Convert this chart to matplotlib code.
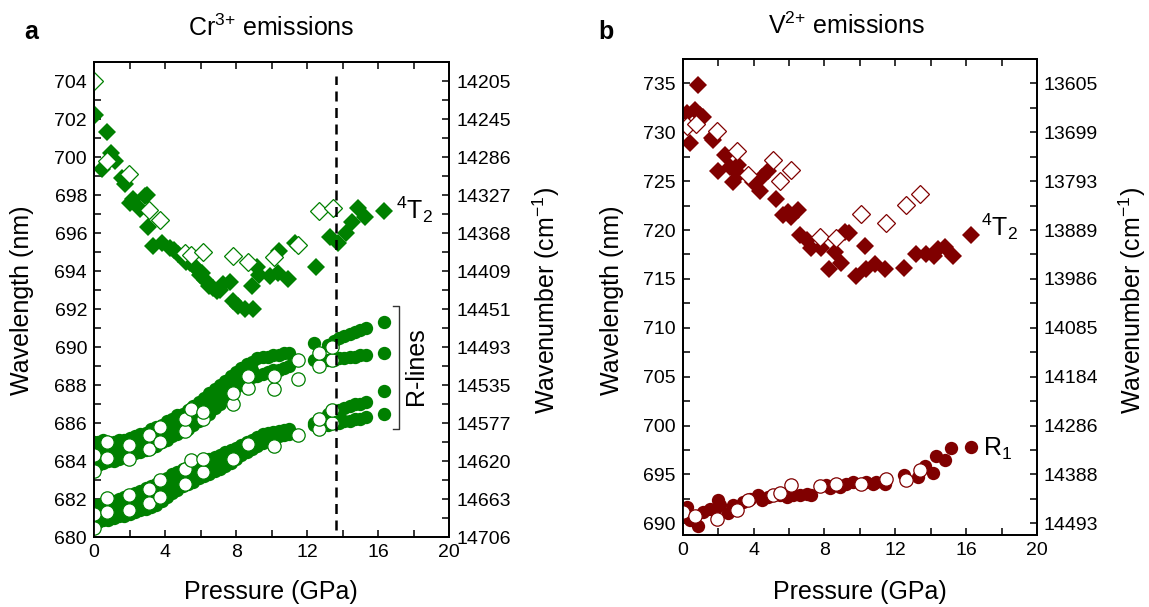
import matplotlib
matplotlib.use("Agg")
import matplotlib.pyplot as plt

plt.rcParams['font.family'] = ['Liberation Sans', 'DejaVu Sans']
plt.rcParams['mathtext.fontset'] = 'custom'
plt.rcParams['mathtext.rm'] = 'Liberation Sans'
plt.rcParams['mathtext.it'] = 'Liberation Sans:italic'
plt.rcParams['mathtext.bf'] = 'Liberation Sans:bold'

GREEN = '#008000'
RED = '#800000'

# ---------------- Panel a : Cr3+ ----------------
cr_t2_p = [0.06, 0.43, 0.71, 0.94, 1.18, 1.56, 1.74, 2.03, 2.2, 2.59, 2.87, 3.0, 3.06, 3.3, 3.8,
           4.28, 4.5, 4.75, 5.2, 5.4, 5.6, 5.8, 5.97, 6.1, 6.25, 6.5, 6.7, 6.9, 7.1, 7.28, 7.65,
           7.84, 8.12, 8.5, 8.97, 8.87, 9.15, 9.3, 9.9, 10.37, 10.4, 10.9, 11.3, 12.5, 13.28,
           13.75, 14.2, 14.5, 14.87, 15.25, 16.32]
cr_t2_wl = [702.2, 699.35, 701.3, 700.2, 699.8, 698.9, 698.6, 697.6, 697.8, 697.25, 697.94, 698.0,
            696.3, 695.3, 695.5, 695.2, 695.1, 694.9, 694.5, 694.4, 694.3, 694.1, 693.8, 693.9,
            693.55, 693.2, 693.1, 692.96, 693.0, 693.3, 693.4, 692.43, 692.17, 692.0, 692.0,
            693.2, 694.2, 693.8, 693.75, 693.9, 695.06, 693.6, 695.5, 694.2, 695.8, 695.5, 696.0,
            696.6, 697.3, 696.85, 697.15]

cr_t2_open_p = [0.0, 0.71, 1.99, 3.11, 3.71, 5.12, 5.45, 6.15, 7.8, 8.68, 10.15, 11.46, 12.68, 13.47]
cr_t2_open_wl = [704.0, 699.8, 699.1, 697.2, 696.7, 694.97, 694.85, 695.0, 694.8, 694.5, 694.74,
                 695.36, 697.16, 697.33]

# R-lines, filled (continuous runs, 0-11 GPa)
cr_r_p = [0.0, 0.25, 0.5, 0.8, 1.1, 1.4, 1.7, 2.0, 2.3, 2.6, 2.9, 3.2, 3.5, 3.8, 4.1, 4.4, 4.7,
          5.0, 5.3, 5.6, 5.9, 6.2, 6.5, 6.8, 7.1, 7.4, 7.7, 8.0, 8.3, 8.6, 8.9, 9.2, 9.5, 9.8,
          10.1, 10.4, 10.7, 11.0]
cr_r_upper_hi = [685.0, 685.0, 685.1, 685.0, 685.0, 685.1, 685.1, 685.2, 685.3, 685.4, 685.5,
                 685.7, 685.8, 685.9, 686.1, 686.2, 686.4, 686.5, 686.7, 686.9, 687.1, 687.3,
                 687.6, 687.8, 688.0, 688.2, 688.5, 688.7, 688.9, 689.1, 689.2, 689.4, 689.5,
                 689.5, 689.6, 689.6, 689.7, 689.7]
cr_r_upper_lo = [683.7, 683.8, 683.9, 684.0, 684.0, 684.1, 684.2, 684.3, 684.4, 684.5, 684.6,
                 684.7, 684.8, 685.0, 685.1, 685.3, 685.4, 685.6, 685.7, 685.9, 686.1, 686.3,
                 686.5, 686.8, 687.0, 687.3, 687.6, 687.9, 688.1, 688.3, 688.4, 688.5, 688.6,
                 688.7, 688.8, 688.8, 688.9, 689.0]
cr_r_lower_hi = [681.7, 681.7, 681.8, 681.8, 681.9, 682.0, 682.1, 682.2, 682.3, 682.4, 682.6,
                 682.7, 682.8, 683.0, 683.1, 683.3, 683.4, 683.6, 683.7, 683.8, 683.9, 684.0,
                 684.1, 684.2, 684.3, 684.45, 684.6, 684.7, 684.85, 685.0, 685.1, 685.25, 685.4,
                 685.5, 685.55, 685.6, 685.65, 685.7]
cr_r_lower_lo = [680.7, 680.8, 680.9, 680.9, 681.0, 681.1, 681.1, 681.2, 681.3, 681.4, 681.5,
                 681.6, 681.7, 681.9, 682.1, 682.3, 682.5, 682.7, 682.8, 682.9, 683.1, 683.2,
                 683.3, 683.45, 683.6, 683.75, 683.9, 684.1, 684.3, 684.5, 684.65, 684.8, 684.95,
                 685.1, 685.2, 685.3, 685.35, 685.4]

cr_rmid_p = [0.0, 0.25, 0.5, 0.8, 1.1, 1.4, 1.7, 2.0, 2.3, 2.6, 2.9, 3.2, 3.5, 3.8, 4.1, 4.4, 4.7,
             5.0, 5.3, 5.6, 5.9, 6.2, 6.5, 6.8, 7.1, 7.4, 7.7, 8.0, 8.3, 8.6, 8.9]
cr_r_upper_mid = [684.3, 684.4, 684.5, 684.5, 684.5, 684.6, 684.7, 684.8, 684.85, 685.0, 685.05,
                  685.2, 685.3, 685.45, 685.6, 685.75, 685.9, 686.05, 686.2, 686.4, 686.6, 686.8,
                  687.05, 687.3, 687.5, 687.75, 688.05, 688.3, 688.5, 688.7, 688.8]
cr_r_lower_mid = [681.2, 681.25, 681.35, 681.35, 681.45, 681.55, 681.6, 681.7, 681.8, 681.9,
                  682.05, 682.15, 682.25, 682.45, 682.6, 682.8, 682.95, 683.15, 683.25, 683.35,
                  683.5, 683.6, 683.7, 683.8, 683.95, 684.1, 684.25, 684.4, 684.55, 684.75, 684.9]

# R-lines, filled (high pressure)
cr_rhp_p = [12.4, 13.2, 13.5, 13.8, 14.1, 14.4, 14.7, 15.0, 15.3, 16.3]
cr_rhp_upper_hi = [690.2, 690.1, 690.3, 690.5, 690.6, 690.7, 690.8, 690.9, 691.0, 691.3]
cr_rhp_upper_lo = [689.3, 689.3, 689.3, 689.4, 689.4, 689.5, 689.5, 689.6, 689.6, 689.7]
cr_rhp_lower_hi = [686.0, 686.5, 686.6, 686.7, 686.8, 686.9, 687.0, 687.0, 687.1, 687.7]
cr_rhp_lower_lo = [685.9, 685.9, 686.0, 686.0, 686.1, 686.1, 686.2, 686.2, 686.3, 686.5]

# R-lines, open
cr_r_open_p = [0.0, 0.0, 0.0, 0.0, 0.71, 0.71, 0.71, 0.71, 1.99, 1.99, 1.99, 1.99,
               3.11, 3.11, 3.11, 3.11, 3.71, 3.71, 3.71, 3.71, 5.12, 5.12, 5.12, 5.12,
               5.45, 5.45, 6.15, 6.15, 6.15, 6.15, 7.8, 7.8, 7.8, 8.68, 8.68, 8.68,
               10.15, 10.15, 10.15, 11.46, 11.46, 11.46, 12.68, 12.68, 12.68, 12.68,
               13.37, 13.37, 13.37, 13.37]
cr_r_open_wl = [680.5, 681.2, 683.5, 684.3, 681.33, 682.03, 684.18, 685.0, 681.42, 682.2, 684.1, 684.83,
                681.77, 682.55, 684.65, 685.35, 682.1, 683.0, 685.0, 685.8, 682.8, 683.6, 685.6, 686.23,
                684.04, 686.75, 683.43, 684.1, 686.23, 686.6, 684.1, 687.0, 687.6, 684.9, 687.85, 688.5,
                684.8, 687.8, 688.45, 685.35, 688.3, 689.3, 685.7, 686.2, 689.0, 689.7,
                686.0, 686.7, 689.3, 690.0]

cr_transition_p = 13.65

cr_yticks = [680, 682, 684, 686, 688, 690, 692, 694, 696, 698, 700, 702, 704]
cr_wn_labels = ['14706', '14663', '14620', '14577', '14535', '14493', '14451', '14409',
                '14368', '14327', '14286', '14245', '14205']

# ---------------- Panel b : V2+ ----------------
v_t2_p = [0.88, 0.22, 0.69, 0.41, 1.16, 1.0, 1.63, 1.72, 2.38, 2.0, 2.66, 2.85, 3.13, 3.2, 3.98,
          4.35, 4.45, 4.82, 5.26, 5.67, 5.95, 6.1, 6.5, 6.6, 6.99, 7.27, 7.83, 8.26, 8.58, 8.96,
          9.14, 9.4, 9.8, 10.27, 10.37, 10.83, 11.4, 12.52, 13.18, 13.75, 14.2, 14.4, 14.83,
          15.25, 16.28]
v_t2_wl = [734.8, 732.0, 732.3, 728.9, 731.6, 731.8, 729.4, 729.2, 727.7, 726.06, 726.4, 724.9,
           726.7, 725.7, 724.9, 724.0, 725.4, 726.06, 723.2, 721.5, 721.8, 721.3, 722.0, 719.5,
           719.0, 718.15, 718.15, 716.0, 717.8, 716.6, 719.8, 719.7, 715.3, 718.4, 716.0, 716.5,
           716.0, 716.1, 717.5, 717.6, 717.3, 718.1, 718.3, 717.3, 719.5]
v_t2_open_p = [0.22, 0.75, 1.95, 3.08, 3.7, 5.1, 5.48, 6.14, 7.74, 8.64, 10.08, 11.5, 12.62, 13.4]
v_t2_open_wl = [730.6, 730.8, 730.1, 728.1, 725.6, 727.2, 725.05, 726.1, 719.3, 719.15, 721.6,
                720.7, 722.6, 723.7]

v_r1_p = [0.22, 0.41, 0.88, 1.16, 1.54, 1.8, 2.0, 2.1, 2.57, 2.85, 3.4, 3.8, 4.26, 4.5, 4.8,
          5.48, 5.9, 6.23, 6.6, 6.99, 7.27, 8.11, 8.3, 8.86, 9.24, 9.6, 10.37, 10.75, 10.9, 11.4,
          12.47, 13.27, 13.65, 14.12, 14.31, 14.78, 15.15, 16.28]
v_r1_wl = [691.7, 690.3, 689.7, 691.2, 691.5, 691.4, 692.4, 691.9, 691.0, 691.9, 692.2, 692.5,
           692.9, 692.4, 692.7, 692.9, 692.7, 692.9, 692.9, 693.0, 692.9, 693.9, 693.6, 693.7,
           694.0, 694.2, 694.2, 694.0, 694.2, 694.0, 694.9, 694.7, 695.9, 695.1, 696.9, 696.5,
           697.75, 697.8]
v_r1_open_p = [0.04, 0.69, 1.92, 3.04, 3.7, 5.1, 5.48, 6.14, 7.74, 8.64, 10.08, 11.5, 12.62, 13.37]
v_r1_open_wl = [691.2, 690.7, 690.4, 691.4, 692.4, 692.9, 693.1, 693.9, 693.8, 694.0, 694.0,
                694.5, 694.4, 695.4]

v_yticks = [690, 695, 700, 705, 710, 715, 720, 725, 730, 735]
v_wn_labels = ['14493', '14388', '14286', '14184', '14085', '13986', '13889', '13793', '13699', '13605']

x_ticks = [0, 4, 8, 12, 16, 20]

# ---------------- drawing ----------------
fig = plt.figure(figsize=(11.49, 6.07), dpi=100)
W, H = 1149.0, 607.0
ax1 = fig.add_axes([94 / W, (H - 537) / H, 355.3 / W, 475 / H])
ax2 = fig.add_axes([682.7 / W, (H - 535) / H, 354.3 / W, 476 / H])

TICK_FS = 14
LAB_FS = 18
DMS = 9.0   # diamond size
CMS = 9.6   # circle size


def style_axes(ax, ylim, yticks, ymin_step, labels):
    ax.set_xlim(0, 20)
    ax.set_ylim(*ylim)
    ax.set_xticks(x_ticks)
    ax.set_xticks([2, 6, 10, 14, 18], minor=True)
    ax.set_yticks(yticks)
    ax.set_yticks([t + ymin_step for t in yticks[:-1]] + [yticks[-1] + ymin_step], minor=True)
    ax.tick_params(which='both', direction='in', top=True, right=False, width=1.1,
                   labelsize=TICK_FS, pad=5, length=5)
    for s in ax.spines.values():
        s.set_linewidth(1.3)
    axr = ax.twinx()
    axr.set_ylim(*ylim)
    axr.set_yticks(yticks)
    axr.set_yticks(ax.get_yticks(minor=True), minor=True)
    axr.set_yticklabels(labels)
    axr.tick_params(which='both', direction='in', width=1.1, length=5, labelsize=TICK_FS, pad=5)
    for s in axr.spines.values():
        s.set_linewidth(1.3)
    return axr


axr1 = style_axes(ax1, (680, 704.9), cr_yticks, 1, cr_wn_labels)
axr2 = style_axes(ax2, (688.8, 737.05), v_yticks, 2.5, v_wn_labels)

# Panel a data
for ys in (cr_r_lower_lo, cr_r_lower_hi, cr_r_upper_lo, cr_r_upper_hi):
    ax1.plot(cr_r_p, ys, 'o', color=GREEN, ms=CMS, mew=0, zorder=3)
for ys in (cr_r_lower_mid, cr_r_upper_mid):
    ax1.plot(cr_rmid_p, ys, 'o', color=GREEN, ms=CMS, mew=0, zorder=3)
for ys in (cr_rhp_lower_lo, cr_rhp_lower_hi, cr_rhp_upper_lo, cr_rhp_upper_hi):
    ax1.plot(cr_rhp_p, ys, 'o', color=GREEN, ms=CMS, mew=0, zorder=3)
ax1.plot(cr_r_open_p, cr_r_open_wl, 'o', mfc='white', mec=GREEN, ms=CMS, mew=0.9, zorder=4)
ax1.plot(cr_t2_p, cr_t2_wl, 'D', color=GREEN, ms=DMS, mew=0, zorder=3)
ax1.plot(cr_t2_open_p, cr_t2_open_wl, 'D', mfc='white', mec=GREEN, ms=DMS, mew=0.9, zorder=4)
ax1.vlines(cr_transition_p, 680.35, 704.25, colors='black', linestyles=(0, (4, 2.6)),
           linewidth=1.8, zorder=5)

# R-lines bracket
ax1.plot([16.85, 17.15, 17.15, 16.85], [692.15, 692.15, 685.7, 685.7], color='#333333', lw=1.0,
         clip_on=False, zorder=5)
ax1.text(18.15, 689.0, 'R-lines', rotation=90, ha='center', va='center', fontsize=LAB_FS)
ax1.text(17.0, 696.74, r'$^{4}$T$_{2}$', ha='left', va='baseline', fontsize=LAB_FS)

# Panel b data
ax2.plot(v_r1_p, v_r1_wl, 'o', color=RED, ms=CMS, mew=0, zorder=3)
ax2.plot(v_r1_open_p, v_r1_open_wl, 'o', mfc='white', mec=RED, ms=CMS, mew=0.9, zorder=4)
ax2.plot(v_t2_p, v_t2_wl, 'D', color=RED, ms=DMS, mew=0, zorder=3)
ax2.plot(v_t2_open_p, v_t2_open_wl, 'D', mfc='white', mec=RED, ms=DMS, mew=0.9, zorder=4)
ax2.text(16.85, 719.4, r'$^{4}$T$_{2}$', ha='left', va='baseline', fontsize=LAB_FS)
ax2.text(16.95, 696.9, r'R$_{1}$', ha='left', va='baseline', fontsize=LAB_FS)

# Axis labels / titles (figure coordinates in pixels)
def ftext(px, py, s, **kw):
    fig.text(px / W, 1 - py / H, s, **kw)

ftext(22, 300, 'Wavelength (nm)', rotation=90, ha='center', va='center', fontsize=LAB_FS)
ftext(546, 300, 'Wavenumber (cm$^{-1}$)', rotation=90, ha='center', va='center', fontsize=LAB_FS)
ftext(612, 300, 'Wavelength (nm)', rotation=90, ha='center', va='center', fontsize=LAB_FS)
ftext(1132, 300, 'Wavenumber (cm$^{-1}$)', rotation=90, ha='center', va='center', fontsize=LAB_FS)
ftext(271, 592, 'Pressure (GPa)', ha='center', va='center', fontsize=LAB_FS)
ftext(860, 592, 'Pressure (GPa)', ha='center', va='center', fontsize=LAB_FS)
ftext(271, 28, 'Cr$^{3{+}}$ emissions', ha='center', va='center', fontsize=LAB_FS)
ftext(846, 26, 'V$^{2{+}}$ emissions', ha='center', va='center', fontsize=LAB_FS)
ftext(31, 32, 'a', ha='center', va='center', fontsize=LAB_FS, fontweight='bold')
ftext(606, 32, 'b', ha='center', va='center', fontsize=LAB_FS, fontweight='bold')

fig.savefig('out.png', dpi=100)
